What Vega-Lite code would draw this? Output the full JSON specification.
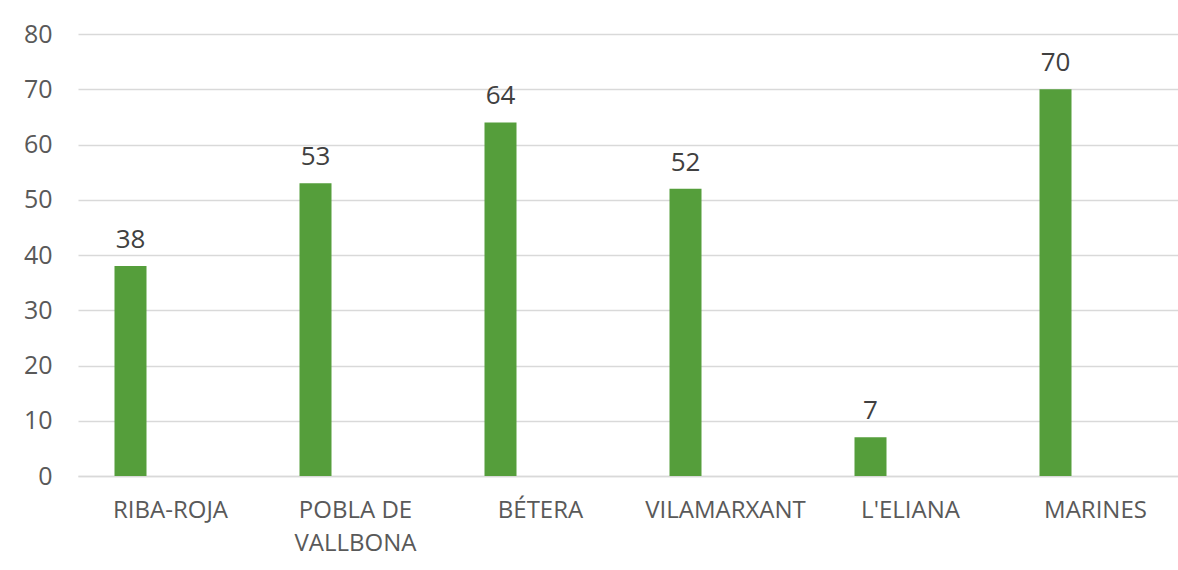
{
  "$schema": "https://vega.github.io/schema/vega-lite/v6.json",
  "autosize": {"type": "none"},
  "padding": {"left": 78, "top": 34, "right": 0, "bottom": 94},
  "width": 1110,
  "height": 442,
  "background": "white",
  "data": {
    "values": [
      {"municipi": "RIBA-ROJA", "valor": 38},
      {"municipi": "POBLA DE VALLBONA", "valor": 53},
      {"municipi": "BÉTERA", "valor": 64},
      {"municipi": "VILAMARXANT", "valor": 52},
      {"municipi": "L'ELIANA", "valor": 7},
      {"municipi": "MARINES", "valor": 70}
    ]
  },
  "config": {
    "font": "Open Sans",
    "view": {"stroke": null},
    "axis": {"labelColor": "#595959", "labelFont": "Open Sans", "labelFontSize": 23}
  },
  "encoding": {
    "x": {
      "field": "municipi",
      "type": "nominal",
      "sort": null,
      "scale": {"paddingInner": 0, "paddingOuter": 0},
      "axis": {
        "title": null,
        "labelAngle": 0,
        "ticks": false,
        "domainColor": "#D9D9D9",
        "domainWidth": 1.5,
        "labelFontSize": 24,
        "labelPadding": 22,
        "labelLineHeight": 33,
        "labelBaseline": "top",
        "labelOverlap": false,
        "labelExpr": "datum.label == 'POBLA DE VALLBONA' ? ['POBLA DE', 'VALLBONA'] : datum.label"
      }
    },
    "y": {
      "field": "valor",
      "type": "quantitative",
      "scale": {"domain": [0, 80]},
      "axis": {
        "title": null,
        "values": [0, 10, 20, 30, 40, 50, 60, 70, 80],
        "labelOverlap": false,
        "domain": false,
        "ticks": false,
        "gridColor": "#D9D9D9",
        "gridWidth": 1.5,
        "labelFontSize": 25,
        "labelPadding": 26
      }
    }
  },
  "layer": [
    {"mark": {"type": "bar", "size": 32, "xOffset": -40, "color": "#559E3B"}},
    {
      "mark": {"type": "text", "xOffset": -40, "dy": -18, "baseline": "alphabetic", "fontSize": 26, "color": "#404040", "font": "Open Sans"},
      "encoding": {"text": {"field": "valor", "type": "quantitative"}}
    }
  ]
}
